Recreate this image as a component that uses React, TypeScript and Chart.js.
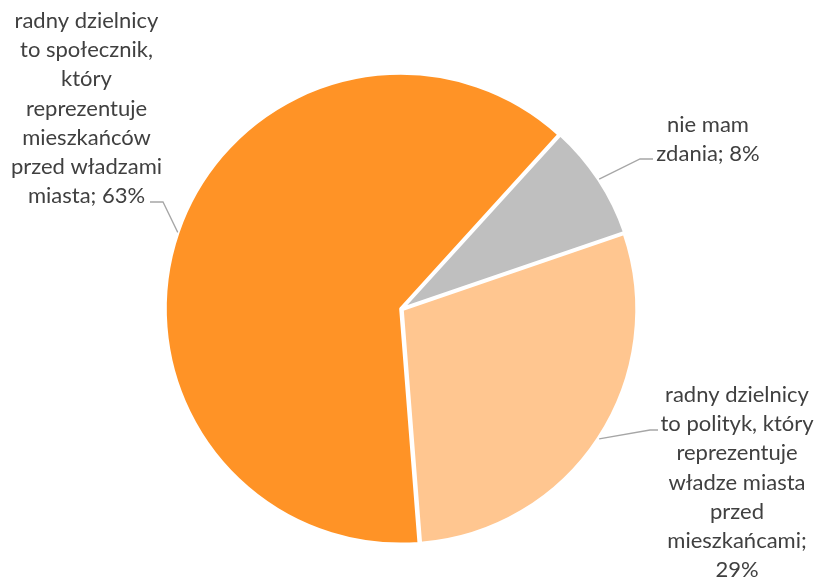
import React, { useEffect, useRef } from "react";
import { Chart, registerables } from "chart.js";

Chart.register(...registerables);

// ---- data ----
const categories = [
  "radny dzielnicy to społecznik, który reprezentuje mieszkańców przed władzami miasta",
  "nie mam zdania",
  "radny dzielnicy to polityk, który reprezentuje władze miasta przed mieszkańcami",
];
const values = [63, 8, 29];
const colors = ["#FF9326", "#BFBFBF", "#FFC690"];
// wrapped label text ({p} = percentage)
const labelWrap = [
  ["radny dzielnicy", "to społecznik,", "który", "reprezentuje", "mieszkańców", "przed władzami", "miasta; {p}"],
  ["nie mam", "zdania; {p}"],
  ["radny dzielnicy", "to polityk, który", "reprezentuje", "władze miasta", "przed", "mieszkańcami;", "{p}"],
];

// ---- label layout (text block positions & leader elbows) ----
const labelLayout = [
  { cx: 86.5, top: 21, elbowX: 163, elbowY: 202, endX: 150 },
  { cx: 708, top: 125, elbowX: 640, elbowY: 159, endX: 653 },
  { cx: 737, top: 395, elbowX: 650, elbowY: 430, endX: 658 },
];
const LINE_H = 29.2;
const FONT = "22px Lato";
const TEXT_COLOR = "#404040";
const LEADER_COLOR = "#A6A6A6";
const ARC_OFFSET = 3.5;

const labelPlugin = {
  id: "pieLabels",
  afterDatasetsDraw(chart: any) {
    const ctx = chart.ctx;
    const meta = chart.getDatasetMeta(0);
    const data = chart.data.datasets[0].data as number[];
    const total = data.reduce((a, b) => a + b, 0);
    ctx.save();
    meta.data.forEach((arc: any, i: number) => {
      const p = arc.getProps(["x", "y", "startAngle", "endAngle", "outerRadius"], true);
      const mid = (p.startAngle + p.endAngle) / 2;
      const r = p.outerRadius - 1.5;
      const ex = p.x + Math.cos(mid) * (r + ARC_OFFSET);
      const ey = p.y + Math.sin(mid) * (r + ARC_OFFSET);
      const lay = labelLayout[i];
      ctx.strokeStyle = LEADER_COLOR;
      ctx.lineWidth = 1.3;
      ctx.beginPath();
      ctx.moveTo(ex, ey);
      ctx.lineTo(lay.elbowX, lay.elbowY);
      ctx.lineTo(lay.endX, lay.elbowY);
      ctx.stroke();
      const pct = Math.round((data[i] / total) * 100) + "%";
      ctx.fillStyle = TEXT_COLOR;
      ctx.font = FONT;
      ctx.textAlign = "center";
      ctx.textBaseline = "middle";
      labelWrap[i].forEach((line, k) => {
        ctx.fillText(line.replace("{p}", pct), lay.cx, lay.top + k * LINE_H);
      });
    });
    ctx.restore();
  },
};

export default function App() {
  const ref = useRef<HTMLCanvasElement | null>(null);
  useEffect(() => {
    if (!ref.current) return;
    const chart = new Chart(ref.current, {
      type: "pie",
      data: {
        labels: categories,
        datasets: [
          {
            data: values,
            backgroundColor: colors,
            borderColor: "#FFFFFF",
            borderWidth: 3,
            offset: ARC_OFFSET,
            hoverOffset: 0,
          } as any,
        ],
      },
      options: {
        responsive: false,
        animation: false,
        devicePixelRatio: 1,
        rotation: 175.5,
        radius: 234.5,
        layout: { padding: { left: 0, right: 16, top: 38, bottom: 0 } },
        plugins: {
          legend: { display: false },
          tooltip: { enabled: false },
        },
        events: [],
      } as any,
      plugins: [labelPlugin],
    });
    return () => chart.destroy();
  }, []);
  return (
    <div style={{ position: "absolute", left: 0, top: 0, width: 819, height: 580, background: "#FFFFFF" }}>
      <canvas ref={ref} width={819} height={580} style={{ width: 819, height: 580, display: "block" }} />
    </div>
  );
}
